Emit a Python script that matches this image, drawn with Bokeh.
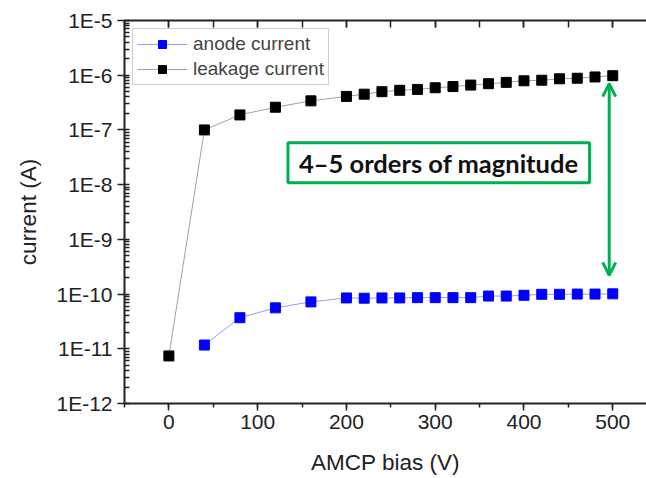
from bokeh.plotting import figure
from bokeh.models import (Range1d, LinearAxis, SingleIntervalTicker, LogTicker,
                          CustomJSTickFormatter, Legend, LegendItem, Label, Arrow, OpenHead)
from bokeh.embed import file_html
from bokeh.resources import INLINE

# ---- data ----
bias_leak = [0, 40, 80, 120, 160, 200, 220, 240, 260, 280, 300, 320, 340, 360,
             380, 400, 420, 440, 460, 480, 500]
leakage = [7.4e-12, 1.0e-7, 1.88e-7, 2.6e-7, 3.4e-7, 4.1e-7, 4.5e-7, 5.0e-7,
           5.3e-7, 5.5e-7, 5.9e-7, 6.2e-7, 6.6e-7, 7.0e-7, 7.4e-7, 7.9e-7,
           8.1e-7, 8.6e-7, 8.8e-7, 9.3e-7, 9.8e-7]
bias_anode = [40, 80, 120, 160, 200, 220, 240, 260, 280, 300, 320, 340, 360,
              380, 400, 420, 440, 460, 480, 500]
anode = [1.17e-11, 3.7e-11, 5.6e-11, 7.2e-11, 8.5e-11, 8.4e-11, 8.5e-11,
         8.5e-11, 8.6e-11, 8.6e-11, 8.6e-11, 8.6e-11, 9.2e-11, 9.2e-11,
         9.5e-11, 9.9e-11, 9.9e-11, 1.0e-10, 1.0e-10, 1.01e-10]
series_labels = ["anode current", "leakage current"]
annotation_text = "4\u20135 orders of magnitude"
arrow_x = 496
arrow_top = 7.0e-7
arrow_bottom = 2.2e-10
box_x = 304
box_y = 2.5e-8

FONT = "Arial"
GREEN = "#00b050"

p = figure(width=646, height=478, output_backend="svg", toolbar_location=None,
           y_axis_type="log", x_range=Range1d(-50, 538), y_range=Range1d(1e-12, 1e-5),
           min_border_left=124, min_border_right=0, min_border_top=20, min_border_bottom=75)
p.outline_line_color = None
p.grid.visible = False
p.background_fill_color = "white"
p.border_fill_color = "white"

# lines + markers
la = p.line(bias_anode, anode, line_color="#9a9aff", line_width=1)
sa = p.scatter(bias_anode, anode, marker="square", size=10, fill_color="#0000ff",
               line_color="#0000ff")
ll = p.line(bias_leak, leakage, line_color="#a0a0a0", line_width=1)
sl = p.scatter(bias_leak, leakage, marker="square", size=10, fill_color="#000000",
               line_color="#000000")

# axes
xa = p.xaxis[0]
xa.ticker = SingleIntervalTicker(interval=100, num_minor_ticks=2)
xa.axis_label = "AMCP bias (V)"
ya = p.yaxis[0]
ya.ticker = LogTicker(num_minor_ticks=10)
ya.formatter = CustomJSTickFormatter(code="return '1E' + Math.round(Math.log10(tick));")
ya.axis_label = "current (A)"
for ax in (xa, ya):
    ax.axis_line_width = 2
    ax.axis_line_color = "#222222"
    ax.major_tick_line_color = "#222222"
    ax.minor_tick_line_color = "#222222"
    ax.major_tick_line_width = 1.5
    ax.minor_tick_line_width = 1.5
    ax.major_label_text_font = FONT
    ax.major_label_text_font_size = "21px"
    ax.major_label_text_color = "#222222"
    ax.axis_label_text_font = FONT
    ax.axis_label_text_font_size = "22.5px"
    ax.axis_label_text_font_style = "normal"
    ax.axis_label_text_color = "#222222"
xa.major_tick_out = 7
xa.major_tick_in = 0
xa.minor_tick_out = 4
xa.minor_tick_in = 0
xa.major_label_standoff = 4
xa.axis_label_standoff = 18
ya.major_tick_out = 7
ya.major_tick_in = 0
ya.minor_tick_out = 0
ya.minor_tick_in = 5
ya.major_label_standoff = 5
ya.axis_label_standoff = 12

top = LinearAxis(ticker=SingleIntervalTicker(interval=100, num_minor_ticks=2))
top.major_label_text_font_size = "0px"
top.major_label_text_color = None
top.axis_line_width = 2
top.axis_line_color = "#222222"
top.major_tick_in = 7
top.major_tick_out = 0
top.minor_tick_in = 7
top.minor_tick_out = 0
top.major_tick_line_width = 1.5
top.minor_tick_line_width = 1.5
top.major_tick_line_color = "#222222"
top.minor_tick_line_color = "#222222"
p.add_layout(top, "above")

legend = Legend(items=[LegendItem(label=series_labels[0], renderers=[la, sa]),
                       LegendItem(label=series_labels[1], renderers=[ll, sl])],
                location="top_left", margin=8, padding=4, spacing=3,
                label_text_font=FONT, label_text_font_size="19px",
                label_height=20, glyph_height=20, glyph_width=50, label_standoff=6,
                border_line_color="#a0a0a0", border_line_width=1,
                background_fill_color="white", background_fill_alpha=1)
p.add_layout(legend)

lbl = Label(x=box_x, y=box_y, text=annotation_text, text_align="center",
            text_baseline="middle", text_font="Lato",
            text_font_style="bold", text_font_size="25.5px", text_color="#111111",
            border_line_color=GREEN, border_line_width=3,
            background_fill_color="white")
try:
    lbl.padding = (11, 5)
except Exception:
    lbl.padding = 6
p.add_layout(lbl)

p.add_layout(Arrow(x_start=arrow_x, y_start=arrow_bottom, x_end=arrow_x, y_end=arrow_top,
                   line_color=GREEN, line_width=3,
                   start=OpenHead(size=13, line_color=GREEN, line_width=3),
                   end=OpenHead(size=13, line_color=GREEN, line_width=3)))

open("out.html", "w").write(file_html(p, INLINE))
